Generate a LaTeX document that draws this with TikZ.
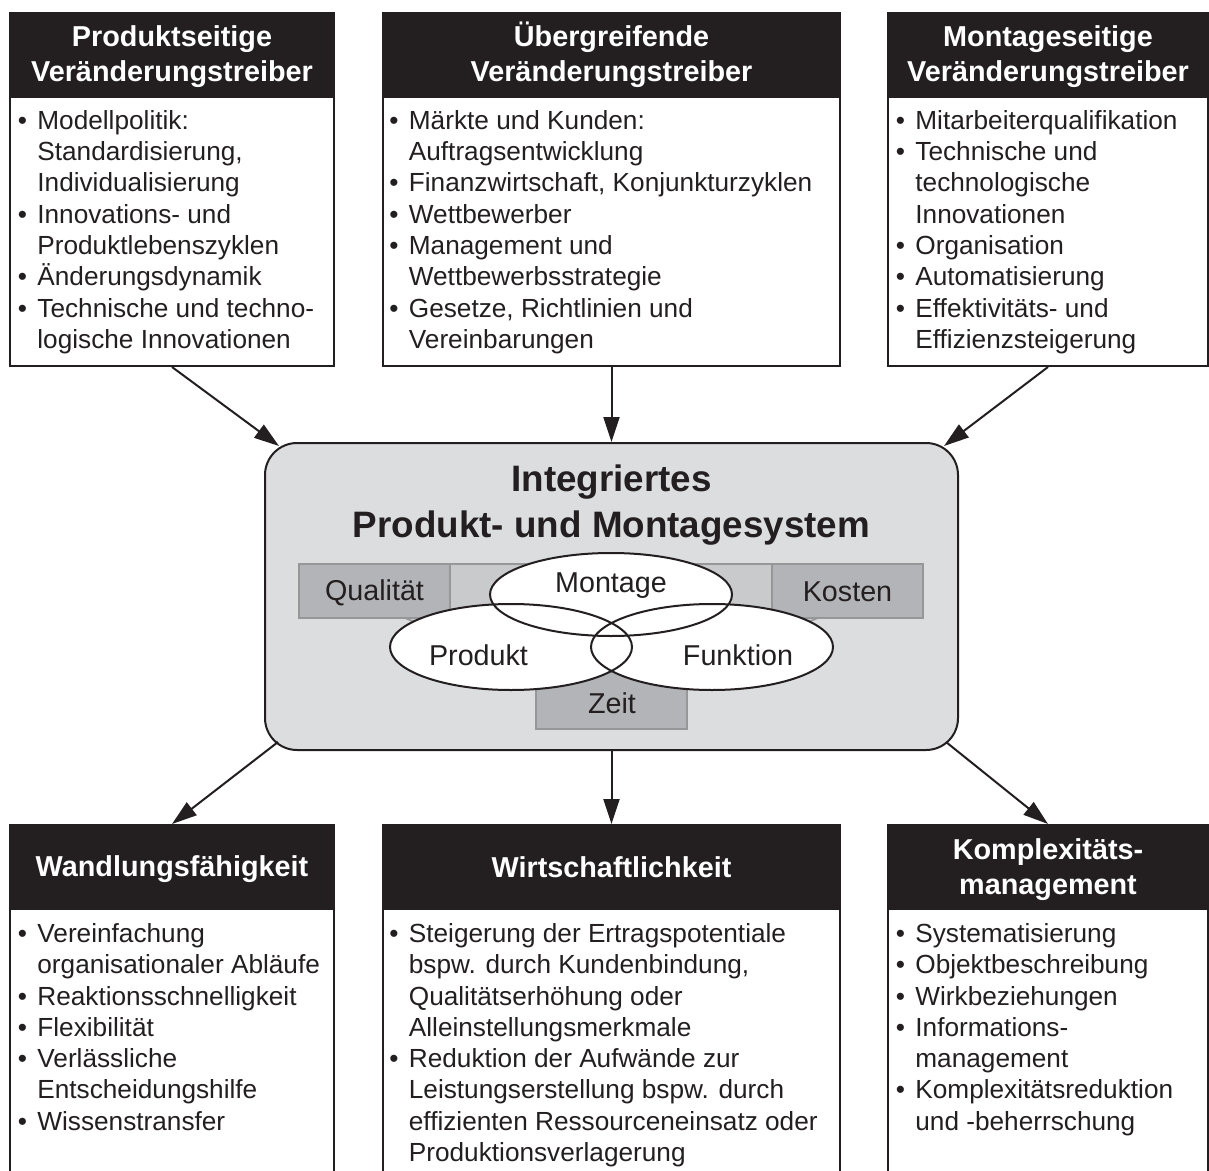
\documentclass[tikz,border=0pt]{standalone}
\usepackage{fontspec}
\setmainfont{Liberation Sans}
\usetikzlibrary{arrows.meta,shapes.geometric}
\definecolor{ink}{RGB}{35,31,32}
\definecolor{cfill}{RGB}{220,221,223}
\definecolor{bandfill}{RGB}{201,202,204}
\definecolor{gbox}{RGB}{179,180,183}
\definecolor{gline}{RGB}{150,151,153}
\newcommand{\bitem}{\makebox[9.75pt][l]{•}}
\newcommand{\bcont}{\hspace*{9.75pt}}
\newcommand{\fl}{\rule{0pt}{12pt}}
\newcommand{\htop}{\rule{0pt}{13pt}}
\newcommand{\hbot}{\rule[-3.5pt]{0pt}{3.5pt}}
\newcommand{\hone}{\rule[-3pt]{0pt}{16pt}}
\begin{document}
\begin{tikzpicture}[x=0.5pt,y=-0.5pt,
  boxframe/.style={draw=ink,line width=1pt,fill=white,inner sep=0pt,rectangle},
  headbox/.style={fill=ink,draw=ink,line width=1pt,text=white,inner sep=0pt,align=center,
    font=\fontsize{14.4}{17.5}\selectfont\bfseries},
  bodytext/.style={anchor=north west,inner sep=0pt,align=left,text=ink,
    font=\fontsize{13.1}{15.65}\selectfont},
  conn/.style={draw=ink,line width=1pt,-{Triangle[length=12.5pt,width=8pt]}},
  gbx/.style={fill=gbox,draw=gline,line width=0.8pt,inner sep=0pt,rectangle,minimum width=75.5pt},
  ellfill/.style={ellipse,fill=white,draw=none,inner sep=0pt,minimum width=121pt,minimum height=42pt},
  ellline/.style={draw=ink,line width=1pt},
  lbl/.style={anchor=base,inner sep=0pt,text=ink,font=\fontsize{14.35}{17}\selectfont}
]
\useasboundingbox (0,0) rectangle (1209,1171);
\begin{scope}
\clip (0,0) rectangle (1209,1171);

% ---------- top boxes ----------
\node[boxframe,minimum width=162pt,minimum height=176.5pt] (tlbox) at (172,189.5) {};
\node[headbox,minimum width=162pt,minimum height=42pt] (tlhead) at (172,55) {\htop Produktseitige\\Veränderungstreiber\hbot};
\node[bodytext] (tltext) at (17.5,105) {\fl\bitem Modellpolitik:\\
\bcont Standardisierung,\\
\bcont Individualisierung\\
\bitem Innovations- und\\
\bcont Produktlebenszyklen\\
\bitem Änderungsdynamik\\
\bitem Technische und techno-\\
\bcont logische Innovationen};

\node[boxframe,minimum width=228.5pt,minimum height=176.5pt] (tmbox) at (611.5,189.5) {};
\node[headbox,minimum width=228.5pt,minimum height=42pt] (tmhead) at (611.5,55) {\htop Übergreifende\\Veränderungstreiber\hbot};
\node[bodytext] (tmtext) at (389,105) {\fl\bitem Märkte und Kunden:\\
\bcont Auftragsentwicklung\\
\bitem Finanzwirtschaft, Konjunkturzyklen\\
\bitem Wettbewerber\\
\bitem Management und\\
\bcont Wettbewerbsstrategie\\
\bitem Gesetze, Richtlinien und\\
\bcont Vereinbarungen};

\node[boxframe,minimum width=160pt,minimum height=176.5pt] (trbox) at (1048,189.5) {};
\node[headbox,minimum width=160pt,minimum height=42pt] (trhead) at (1048,55) {\htop Montageseitige\\Veränderungstreiber\hbot};
\node[bodytext] (trtext) at (895.5,105) {\fl\bitem Mitarbeiterqualifikation\\
\bitem Technische und\\
\bcont technologische\\
\bcont Innovationen\\
\bitem Organisation\\
\bitem Automatisierung\\
\bitem Effektivitäts- und\\
\bcont Effizienzsteigerung};

% ---------- bottom boxes ----------
\node[boxframe,minimum width=162pt,minimum height=187.5pt] (blbox) at (172,1012.5) {};
\node[headbox,minimum width=162pt,minimum height=42pt] (blhead) at (172,867) {\hone Wandlungsfähigkeit};
\node[bodytext] (bltext) at (17.5,918) {\fl\bitem Vereinfachung\\
\bcont organisationaler Abläufe\\
\bitem Reaktionsschnelligkeit\\
\bitem Flexibilität\\
\bitem Verlässliche\\
\bcont Entscheidungshilfe\\
\bitem Wissenstransfer};

\node[boxframe,minimum width=228.5pt,minimum height=187.5pt] (bmbox) at (611.5,1012.5) {};
\node[headbox,minimum width=228.5pt,minimum height=42pt] (bmhead) at (611.5,867) {\hone Wirtschaftlichkeit};
\node[bodytext] (bmtext) at (389,918) {\fl\bitem Steigerung der Ertragspotentiale\\
\bcont bspw. durch Kundenbindung,\\
\bcont Qualitätserhöhung oder\\
\bcont Alleinstellungsmerkmale\\
\bitem Reduktion der Aufwände zur\\
\bcont Leistungserstellung bspw. durch\\
\bcont effizienten Ressourceneinsatz oder\\
\bcont Produktionsverlagerung};

\node[boxframe,minimum width=160pt,minimum height=187.5pt] (brbox) at (1048,1012.5) {};
\node[headbox,minimum width=160pt,minimum height=42pt] (brhead) at (1048,867) {\htop Komplexitäts-\\management\hbot};
\node[bodytext] (brtext) at (895.5,918) {\fl\bitem Systematisierung\\
\bitem Objektbeschreibung\\
\bitem Wirkbeziehungen\\
\bitem Informations-\\
\bcont management\\
\bitem Komplexitätsreduktion\\
\bcont und -beherrschung};

% ---------- centre ----------
\node[draw=ink,line width=1pt,fill=cfill,rounded corners=16pt,minimum width=346.5pt,minimum height=153.5pt,inner sep=0pt] (cbox) at (611.5,596.5) {};
\node[anchor=north,align=center,inner sep=0pt,text=ink,font=\fontsize{18.4}{23}\selectfont\bfseries] (ctitle) at (611.5,461) {\rule{0pt}{15pt}Integriertes\\Produkt- und Montagesystem};

\filldraw[fill=bandfill,draw=gline,line width=0.8pt] (405,564) -- (818,564) -- (818,618) -- (687,672) -- (536,672) -- (405,618) -- cycle;
\node[gbx,minimum height=27pt] (qual) at (374.5,591) {};
\node[gbx,minimum height=27pt] (kost) at (847.5,591) {};
\node[gbx,minimum height=28.5pt] (zeit) at (611.5,700.5) {};

\node[ellfill,minimum height=41.5pt] (mont) at (611,594.5) {};
\node[ellfill,minimum height=43pt] (prod) at (511,647) {};
\node[ellfill,minimum height=43pt] (funk) at (712,647) {};
\draw[ellline] (mont.center) ellipse [x radius=60.5pt, y radius=20.75pt];
\draw[ellline] (prod.center) ellipse [x radius=60.5pt, y radius=21.5pt];
\draw[ellline] (funk.center) ellipse [x radius=60.5pt, y radius=21.5pt];

\node[lbl] (lqual) at (374.5,600) {Qualität};
\node[lbl] (lkost) at (847.5,601) {Kosten};
\node[lbl] (lzeit) at (612,713) {Zeit};
\node[lbl] (lmont) at (611,592) {Montage};
\node[lbl] (lprod) at (478.5,665) {Produkt};
\node[lbl] (lfunk) at (738,665) {Funktion};

% ---------- connectors ----------
\coordinate (pTL) at (279,446);
\coordinate (pTR) at (944,446);
\coordinate (pBL) at (278,742);
\coordinate (pBR) at (946,742);
\draw[conn] (tlbox.south) -- (pTL);
\draw[conn] (tmbox.south) -- (cbox.north);
\draw[conn] (trbox.south) -- (pTR);
\draw[conn] (pBL) -- (blbox.north);
\draw[conn] (cbox.south) -- (bmbox.north);
\draw[conn] (pBR) -- (brbox.north);
\end{scope}
\end{tikzpicture}
\end{document}
